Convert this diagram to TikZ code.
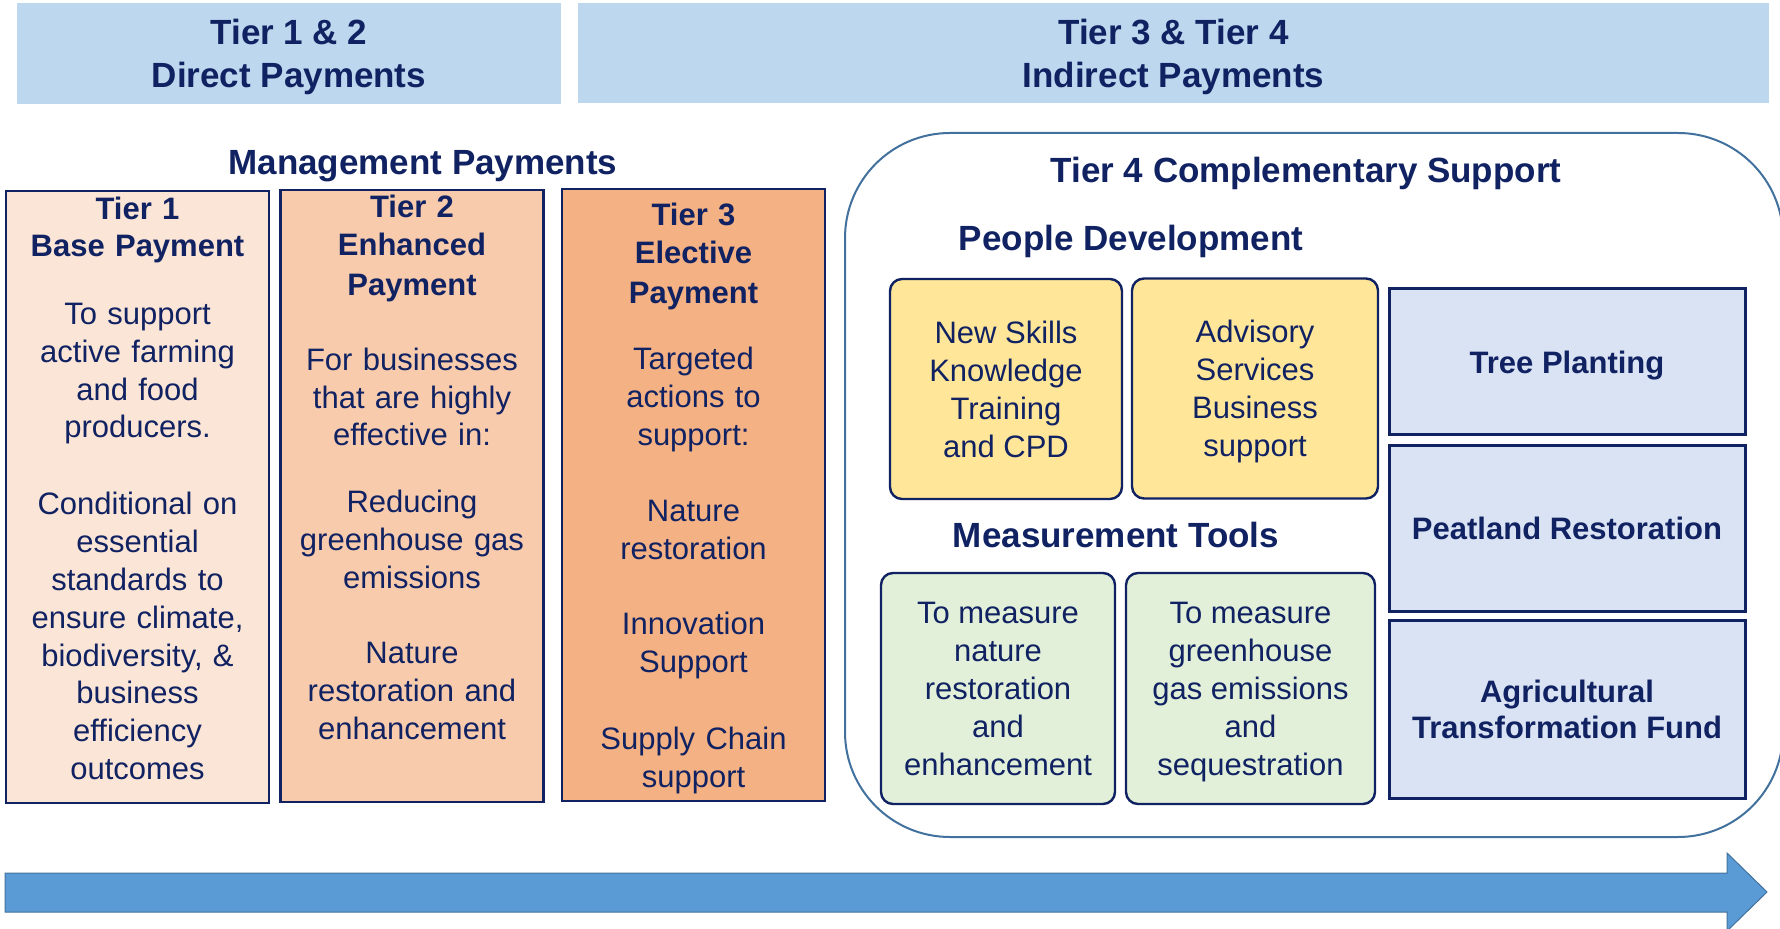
\documentclass[tikz,border=0pt]{standalone}
\usepackage{fontspec}
\setmainfont{Liberation Sans}
\usetikzlibrary{positioning}

\definecolor{navy}{HTML}{102262}
\definecolor{bannerblue}{HTML}{BDD7EE}
\definecolor{tierone}{HTML}{FBE5D6}
\definecolor{tiertwo}{HTML}{F8CBAD}
\definecolor{tierthree}{HTML}{F4B183}
\definecolor{skillyellow}{HTML}{FFE699}
\definecolor{toolgreen}{HTML}{E2F0D9}
\definecolor{fundblue}{HTML}{DAE3F3}
\definecolor{edgeblue}{HTML}{41719C}
\definecolor{arrowblue}{HTML}{5B9BD5}

\begin{document}
\begin{tikzpicture}[x=0.5pt, y=-0.5pt,
		every node/.style={text=navy, inner sep=0pt},
		banner/.style={fill=bannerblue, align=center, text depth=0pt, font=\bfseries\fontsize{17.5}{21.5}\selectfont},
		heading/.style={font=\bfseries\fontsize{17.5}{21}\selectfont},
		tier/.style={draw=navy, line width=1.2pt, minimum width=131.5pt, minimum height=306pt},
		tiertext/.style={text width=128pt, align=center, font=\fontsize{15.5}{18.9}\selectfont},
		pill/.style={draw=navy, line width=1.2pt, rounded corners=6pt, align=center, text depth=0pt, font=\fontsize{15.5}{19}\selectfont},
		fund/.style={draw=navy, line width=1.5pt, fill=fundblue, minimum width=178pt, align=center, text depth=0pt, font=\bfseries\fontsize{15.5}{18}\selectfont}]
	\useasboundingbox (0,0) rectangle (1780,929);

	\node[banner, minimum width=272pt, minimum height=50.5pt] (direct) at (289,53.5) {Tier 1 \& 2\\Direct Payments};
	\node[banner, minimum width=595.5pt, minimum height=50pt] (indirect) at (1173.5,53) {Tier 3 \& Tier 4\\Indirect Payments};

	\node[heading] (mgmt) at (423,166) {Management Payments};
	\node[tier, fill=tierone] (t1) at (137.5,497) {};
	\node[tier, fill=tiertwo] (t2) at (412,496) {};
	\node[tier, fill=tierthree] (t3) at (693.5,495) {};
	\node[tiertext, below=3.2pt of t1.north] (t1text) {\textbf{Tier 1}\\\textbf{Base Payment}\\[14.9pt]To support\\active farming\\and food\\producers.\\[19.6pt]Conditional on\\essential\\standards to\\ensure climate,\\biodiversity, \&\\business\\efficiency\\outcomes};
	\node[tiertext, below=2.7pt of t2.north] (t2text) {\textbf{Tier 2}\\[0.5pt]\textbf{Enhanced}\\[1pt]\textbf{Payment}\\[18.4pt]For businesses\\that are highly\\effective in:\\[14.6pt]Reducing\\greenhouse gas\\emissions\\[18.8pt]Nature\\restoration and\\enhancement};
	\node[tiertext, below=7.2pt of t3.north] (t3text) {\textbf{Tier 3}\\[0.5pt]\textbf{Elective}\\[1pt]\textbf{Payment}\\[14.2pt]Targeted\\actions to\\support:\\[19.2pt]Nature\\restoration\\[18.6pt]Innovation\\Support\\[19.6pt]Supply Chain\\support};

	\node[draw=edgeblue, line width=1pt, rounded corners=52.5pt, minimum width=469pt, minimum height=352pt] (t4) at (1314,485) {};
	\node[heading] (t4title) at (1306,173) {Tier 4 Complementary Support};
	\node[heading] (people) at (1131,241) {People Development};
	\node[heading] (measure) at (1116,535) {Measurement Tools};
	\node[pill, fill=skillyellow, minimum width=116pt, minimum height=110pt] (skills) at (1006,389) {New Skills\\Knowledge\\Training\\and CPD};
	\node[pill, fill=skillyellow, minimum width=123pt, minimum height=110pt] (advice) at (1255,388.5) {Advisory\\Services\\Business\\support};
	\node[pill, fill=toolgreen, minimum width=117pt, minimum height=115.5pt] (naturetool) at (998,688.5) {To measure\\nature\\restoration\\and\\enhancement};
	\node[pill, fill=toolgreen, minimum width=124.5pt, minimum height=115.5pt] (ghgtool) at (1250.5,688.5) {To measure\\greenhouse\\gas emissions\\and\\sequestration};
	\node[fund, minimum height=73pt] (trees) at (1567,362) {Tree Planting};
	\node[fund, minimum height=82.5pt] (peat) at (1567,528.5) {Peatland Restoration};
	\node[fund, minimum height=89pt] (atf) at (1567,709) {Agricultural\\Transformation Fund};

	\draw[fill=arrowblue, draw=edgeblue, line width=0.5pt] (5,873) -- (1727,873) -- (1727,853) -- (1767,892) -- (1727,931) -- (1727,912) -- (5,912) -- cycle;
\end{tikzpicture}
\end{document}
